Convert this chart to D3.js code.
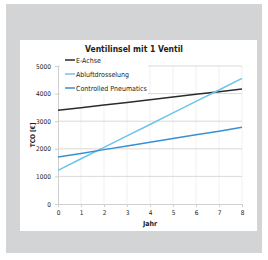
<!DOCTYPE html>
<html>
<head>
<meta charset="utf-8">
<script src="https://cdn.jsdelivr.net/npm/d3@7"></script>
<style>
	body { margin: 0; background: #fff; }
	text { font-family: "DejaVu Sans Condensed", "DejaVu Sans", sans-serif; fill: #222; }
</style>
</head>
<body>
<div id="chart"></div>
<script>
// chart data
var years = [0, 1, 2, 3, 4, 5, 6, 7, 8];
var eAchse = [3400, 3490, 3590, 3680, 3780, 3880, 3980, 4070, 4170];
var abluft = [1220, 1640, 2050, 2470, 2880, 3300, 3720, 4130, 4550];
var controlled = [1700, 1830, 1970, 2100, 2240, 2370, 2510, 2640, 2780];
var seriesNames = ["E-Achse", "Abluftdrosselung", "Controlled Pneumatics"];
var yTicks = [0, 1000, 2000, 3000, 4000, 5000];
var xTicks = [0, 1, 2, 3, 4, 5, 6, 7, 8];

var colors = ["#2b2b2b", "#6cc4ea", "#3a8fd0"];
var allSeries = [eAchse, abluft, controlled];

var W = 268, H = 260;
var svg = d3.select("#chart").append("svg")
	.attr("width", W)
	.attr("height", H);

// gray frame + white panel
svg.append("rect").attr("x", 6).attr("y", 4).attr("width", 256).attr("height", 249).attr("fill", "#d3d4d6");
svg.append("rect").attr("x", 20).attr("y", 40).attr("width", 237).attr("height", 191).attr("fill", "#fff");

//Scales
var x = d3.scaleLinear().domain([0, 8]).range([58, 242]);
var y = d3.scaleLinear().domain([0, 5000]).range([204, 66]);

//vertical grid
svg.append("g").selectAll("line")
	.data(xTicks.slice(1))
	.enter().append("line")
	.attr("x1", function(d) { return x(d); })
	.attr("x2", function(d) { return x(d); })
	.attr("y1", y(0)).attr("y2", y(5000))
	.attr("stroke", "#ededed").attr("stroke-width", 0.8);

//horizontal grid
svg.append("g").selectAll("line")
	.data(yTicks.slice(1))
	.enter().append("line")
	.attr("x1", x(0)).attr("x2", x(8))
	.attr("y1", function(d) { return y(d); })
	.attr("y2", function(d) { return y(d); })
	.attr("stroke", "#d4cfcc").attr("stroke-width", 0.8);

//axes
var yAxis = svg.append("g")
	.attr("transform", "translate(" + x(0) + ",0)")
	.call(d3.axisLeft(y).tickValues(yTicks).tickSize(3).tickPadding(4).tickFormat(d3.format("d")));
var xAxis = svg.append("g")
	.attr("transform", "translate(0," + y(0) + ")")
	.call(d3.axisBottom(x).tickValues(xTicks).tickSize(3).tickPadding(3).tickFormat(d3.format("d")));
[xAxis, yAxis].forEach(function(a) {
	a.select(".domain").attr("stroke", "#cfcfcf");
	a.selectAll(".tick line").attr("stroke", "#cfcfcf");
	a.selectAll(".tick text").attr("font-size", 6.5).attr("fill", "#222")
		.attr("font-family", "\"DejaVu Sans Condensed\", sans-serif");
});
yAxis.select(".tick line").remove();

//axis labels
svg.append("text")
	.attr("transform", "translate(35," + y(2500) + ") rotate(-90)")
	.attr("text-anchor", "middle")
	.attr("font-size", 6.5).attr("font-weight", "bold")
	.text("TCO [€]");
svg.append("text")
	.attr("x", x(4)).attr("y", 226)
	.attr("text-anchor", "middle")
	.attr("font-size", 7).attr("font-weight", "bold")
	.text("Jahr");

//title
svg.append("text")
	.attr("x", 134).attr("y", 52)
	.attr("text-anchor", "middle")
	.attr("font-size", 8.5).attr("font-weight", "bold")
	.text("Ventilinsel mit 1 Ventil");

//lines
var line = d3.line()
	.x(function(d, i) { return x(years[i]); })
	.y(function(d) { return y(d); });
svg.append("g").selectAll("path")
	.data(allSeries)
	.enter().append("path")
	.attr("d", line)
	.attr("fill", "none")
	.attr("stroke", function(d, i) { return colors[i]; })
	.attr("stroke-width", 1.5);

//legend
svg.append("rect").attr("x", 60).attr("y", 55).attr("width", 88).attr("height", 40).attr("fill", "#fff");
var legend = svg.append("g").selectAll("g")
	.data(seriesNames)
	.enter().append("g")
	.attr("transform", function(d, i) { return "translate(65," + (60 + i * 14) + ")"; });
legend.append("line")
	.attr("x1", 0).attr("x2", 10)
	.attr("stroke", function(d, i) { return colors[i]; })
	.attr("stroke-width", 1.5);
legend.append("text")
	.attr("x", 11).attr("y", 2.5)
	.attr("font-size", 7)
	.text(function(d) { return d; });
</script>
</body>
</html>
